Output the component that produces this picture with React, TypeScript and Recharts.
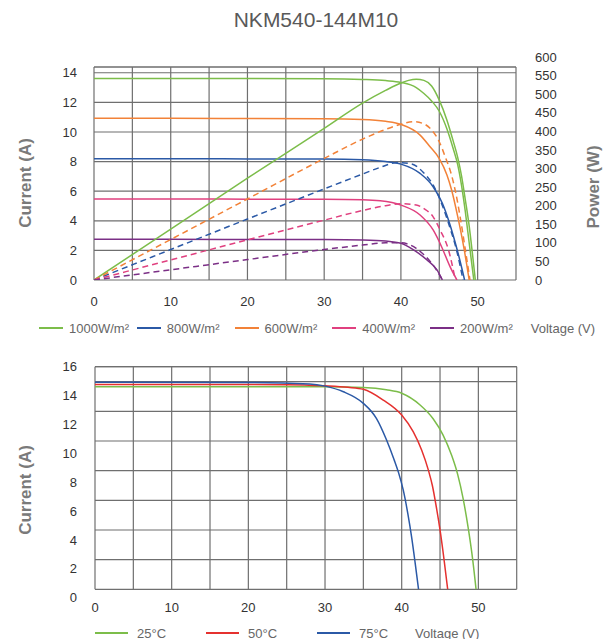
import React from 'react';
import { LineChart, Line, XAxis, YAxis, CartesianGrid, ReferenceLine } from 'recharts';

const FONT = '"Liberation Sans", Arial, Helvetica, sans-serif';

// ---------- text ----------
const chartTitle = 'NKM540-144M10';
const currentTitle = 'Current (A)';
const powerTitle = 'Power (W)';
const voltageTitle = 'Voltage (V)';

// ---------- ticks ----------
const xTicks = [0, 5, 10, 15, 20, 25, 30, 35, 40, 45, 50, 55];
const topCurrentTicks = [0, 2, 4, 6, 8, 10, 12, 14];
const powerTicks = [0, 50, 100, 150, 200, 250, 300, 350, 400, 450, 500, 550, 600];
const botGridTicks = [0, 2, 4, 6, 8, 10, 12, 14];
const botLabelTicks = [0, 2, 4, 6, 8, 10, 12, 14, 16];

// ---------- top chart: irradiance series ----------
const irrNames = ['1000W/m²', '800W/m²', '600W/m²', '400W/m²', '200W/m²'];
const irrColors = ['#7cbd4a', '#2b59a6', '#f28238', '#e0407f', '#7b2f86'];

// 1000 W/m2 (green)
const g_iv_v = [0, 10, 20, 30, 35, 38, 40, 42, 43, 44, 45, 46, 46.8, 47.4, 47.9, 48.4, 48.9, 49.5];
const g_iv_i = [13.62, 13.62, 13.61, 13.6, 13.55, 13.47, 13.35, 13.0, 12.6, 12.1, 11.4, 10.2, 8.9, 7.8, 6.4, 4.6, 2.5, 0];
const g_pv_v = [0, 10, 20, 30, 35, 38, 40, 41, 42, 43, 44, 45, 46, 46.8, 47.4, 47.9, 48.4, 48.9, 49.3, 49.7];
const g_pv_p = [0, 137, 274, 408, 476, 510, 530, 537, 540, 537, 522, 484, 430, 375, 330, 280, 215, 145, 75, 0];

// blue
const b_iv_v = [0, 10, 20, 30, 35, 38, 40, 42.5, 44.2, 45.4, 46.2, 46.9, 47.7, 48.3];
const b_iv_i = [8.19, 8.19, 8.18, 8.17, 8.12, 8.0, 7.83, 7.2, 6.3, 5.18, 4.05, 2.85, 1.3, 0];
const b_pv_v = [0, 10, 20, 30, 35, 37.3, 39.5, 41.4, 42.9, 44.4, 45.5, 46.4, 47.2, 48.1];
const b_pv_p = [0, 82, 164, 245, 285, 303, 316, 312, 290, 248, 195, 140, 85, 0];

// orange
const o_iv_v = [0, 10, 20, 30, 35, 38, 40, 42.5, 43.8, 45, 46, 46.6, 47.4, 48.2, 48.9];
const o_iv_i = [10.92, 10.92, 10.91, 10.9, 10.85, 10.72, 10.51, 9.79, 9.0, 8.2, 7.1, 6.1, 4.3, 2.2, 0];
const o_pv_v = [0, 10, 20, 30, 35, 38, 40, 41.6, 43, 43.8, 45, 45.8, 46.6, 47.1, 47.8, 48.4, 49.0];
const o_pv_p = [0, 109, 218, 327, 379, 405, 419, 426, 420, 408, 372, 330, 282, 239, 160, 81, 0];

// pink
const k_iv_v = [0, 10, 20, 30, 35, 37.3, 40, 42.5, 44.2, 45.3, 46.4, 47.3];
const k_iv_i = [5.47, 5.47, 5.46, 5.45, 5.42, 5.35, 5.06, 4.39, 3.38, 2.25, 0.9, 0];
const k_pv_v = [0, 10, 20, 30, 35, 38, 40, 42, 43, 44.2, 45.1, 46.2, 47.1];
const k_pv_p = [0, 54, 108, 161, 187, 200, 205, 202, 192, 170, 135, 81, 0];

// purple
const u_iv_v = [0, 10, 20, 30, 35, 38, 40, 41.6, 43.4, 44.7, 45.4];
const u_iv_i = [2.75, 2.75, 2.74, 2.73, 2.7, 2.63, 2.48, 2.05, 1.35, 0.68, 0];
const u_pv_v = [0, 10, 20, 30, 35, 38, 40, 41, 42, 43, 44, 44.8, 45.4];
const u_pv_p = [0, 27.5, 55, 82, 94, 100, 100, 96, 85, 68, 45, 22, 0];

// ---------- bottom chart: temperature series ----------
const tempNames = ['25°C', '50°C', '75°C'];
const tempColors = ['#7cbd4a', '#e5312f', '#2b59a6'];

const t25_v = [0, 20, 30, 35, 38, 40, 42.4, 44.1, 45.4, 46.5, 47.3, 48.0, 48.7, 49.26, 49.7];
const t25_i = [13.66, 13.66, 13.65, 13.6, 13.45, 13.22, 12.43, 11.5, 10.4, 9.05, 7.75, 6.15, 4.05, 2.0, 0];
const t50_v = [0, 25, 30, 33, 35, 37.6, 40, 41.5, 42.6, 43.5, 44.0, 44.5, 45.0, 45.5, 46.0];
const t50_i = [13.81, 13.8, 13.72, 13.62, 13.49, 12.76, 11.75, 10.63, 9.39, 8.0, 7.0, 5.6, 4.0, 2.1, 0];
const t75_v = [0, 20, 28, 30, 32.4, 35, 36.7, 38, 39, 39.6, 40.2, 40.8, 41.3, 41.75, 42.2];
const t75_i = [13.96, 13.95, 13.85, 13.7, 13.32, 12.54, 11.53, 10.1, 8.75, 7.85, 6.7, 5.1, 3.5, 1.8, 0];

const pts = (vs: number[], ys: number[]) => vs.map((v, i) => ({ v, y: ys[i] }));

const irrSeries = [
  { iv: pts(g_iv_v, g_iv_i), pv: pts(g_pv_v, g_pv_p), pvDashed: false },
  { iv: pts(b_iv_v, b_iv_i), pv: pts(b_pv_v, b_pv_p), pvDashed: true },
  { iv: pts(o_iv_v, o_iv_i), pv: pts(o_pv_v, o_pv_p), pvDashed: true },
  { iv: pts(k_iv_v, k_iv_i), pv: pts(k_pv_v, k_pv_p), pvDashed: true },
  { iv: pts(u_iv_v, u_iv_i), pv: pts(u_pv_v, u_pv_p), pvDashed: true },
].map((s, i) => ({ ...s, name: irrNames[i], color: irrColors[i] }));

const tempSeries = [pts(t25_v, t25_i), pts(t50_v, t50_i), pts(t75_v, t75_i)].map((d, i) => ({
  data: d,
  name: tempNames[i],
  color: tempColors[i],
}));

const GRID = '#6f6f6f';
const tickStyle = { fill: '#333', fontSize: 13, fontFamily: FONT };
const fmtX = (v: number) => (v % 10 === 0 && v <= 50 ? String(v) : '');

export default function App() {
  return (
    <div style={{ position: 'relative', width: 616, height: 639, fontFamily: FONT, background: '#fff', overflow: 'hidden' }}>
      <style>{'body{margin:0}'}</style>

      {/* Top chart */}
      <div style={{ position: 'absolute', left: 0, top: 0 }}>
        <LineChart width={616} height={345} margin={{ top: 67, right: 0, bottom: 35, left: 0 }}>
          <CartesianGrid yAxisId="i" stroke={GRID} strokeWidth={1.2} />
          <XAxis type="number" dataKey="v" domain={[0, 55]} ticks={xTicks} interval={0} tickFormatter={fmtX}
            axisLine={false} tickLine={false} tickMargin={11} height={30} tick={tickStyle} allowDataOverflow />
          <YAxis yAxisId="i" domain={[0, 14.39]} ticks={topCurrentTicks} interval={0} width={94}
            axisLine={false} tickLine={false} tickMargin={11} tick={tickStyle} allowDataOverflow />
          <YAxis yAxisId="p" orientation="right" domain={[0, 573]} ticks={powerTicks} interval={0} width={100}
            axisLine={false} tickLine={false} tickMargin={13} tick={tickStyle} allowDataOverflow />
          <ReferenceLine yAxisId="i" y={14.39} stroke={GRID} strokeWidth={1.2} />
          {irrSeries.map((s) => (
            <Line key={'iv' + s.name} yAxisId="i" data={s.iv} dataKey="y" type="monotone" stroke={s.color}
              strokeWidth={1.5} dot={false} isAnimationActive={false} />
          ))}
          {irrSeries.map((s) => (
            <Line key={'pv' + s.name} yAxisId="p" data={s.pv} dataKey="y" type="monotone" stroke={s.color}
              strokeWidth={1.5} strokeDasharray={s.pvDashed ? '6 4' : undefined} dot={false} isAnimationActive={false} />
          ))}
        </LineChart>
      </div>

      {/* Bottom chart */}
      <div style={{ position: 'absolute', left: 0, top: 345 }}>
        <LineChart width={616} height={294} margin={{ top: 21.7, right: 99.3, bottom: 19.7, left: 0 }}>
          <CartesianGrid yAxisId="i" stroke={GRID} strokeWidth={1.2} />
          <XAxis type="number" dataKey="v" domain={[0, 55]} ticks={xTicks} interval={0} tickFormatter={fmtX}
            axisLine={false} tickLine={false} tickMargin={7} height={30} tick={tickStyle} allowDataOverflow />
          <YAxis yAxisId="lbl" domain={[0.585, 16]} ticks={botLabelTicks} interval={0} width={95}
            axisLine={false} tickLine={false} tickMargin={12} tick={tickStyle} allowDataOverflow />
          <YAxis yAxisId="i" hide width={0} domain={[0, 15.01]} ticks={botGridTicks} interval={0} allowDataOverflow />
          <ReferenceLine yAxisId="i" y={15.01} stroke={GRID} strokeWidth={1.2} />
          {tempSeries.map((s) => (
            <Line key={s.name} yAxisId="i" data={s.data} dataKey="y" type="monotone" stroke={s.color}
              strokeWidth={1.5} dot={false} isAnimationActive={false} />
          ))}
        </LineChart>
      </div>

      {/* Titles */}
      <svg width={616} height={639} style={{ position: 'absolute', left: 0, top: 0, pointerEvents: 'none' }}>
        <text x={316} y={26.7} textAnchor="middle" fontSize={21} fill="#595959" fontFamily={FONT}>{chartTitle}</text>
        <text x={25} y={183} transform="rotate(-90 25 183)" textAnchor="middle" dominantBaseline="central"
          fontSize={17} fontWeight="bold" fill="#7a7a7a" fontFamily={FONT}>{currentTitle}</text>
        <text x={593} y={187} transform="rotate(-90 593 187)" textAnchor="middle" dominantBaseline="central"
          fontSize={17} fontWeight="bold" fill="#7a7a7a" fontFamily={FONT}>{powerTitle}</text>
        <text x={25} y={490} transform="rotate(-90 25 490)" textAnchor="middle" dominantBaseline="central"
          fontSize={17} fontWeight="bold" fill="#7a7a7a" fontFamily={FONT}>{currentTitle}</text>
      </svg>

      {/* Top legend */}
      <div style={{ position: 'absolute', left: 39, top: 318, height: 20, display: 'flex', alignItems: 'center',
        fontSize: 13, color: '#666', whiteSpace: 'nowrap' }}>
        {irrSeries.map((s) => (
          <div key={s.name} style={{ width: 97.75, display: 'flex', alignItems: 'center' }}>
            <span style={{ display: 'inline-block', width: 24, height: 1.6, background: s.color, marginRight: 6 }} />
            <span>{s.name}</span>
          </div>
        ))}
        <span style={{ marginLeft: 3 }}>{voltageTitle}</span>
      </div>

      {/* Bottom legend */}
      <div style={{ position: 'absolute', left: 95, top: 623, height: 20, display: 'flex', alignItems: 'center',
        fontSize: 13, color: '#666', whiteSpace: 'nowrap' }}>
        {tempSeries.map((s, i) => (
          <div key={s.name} style={{ width: i < tempSeries.length - 1 ? 111 : 98, display: 'flex', alignItems: 'center' }}>
            <span style={{ display: 'inline-block', width: 33, height: 2, background: s.color, marginRight: 9 }} />
            <span>{s.name}</span>
          </div>
        ))}
        <span style={{ marginLeft: 0 }}>{voltageTitle}</span>
      </div>
    </div>
  );
}
